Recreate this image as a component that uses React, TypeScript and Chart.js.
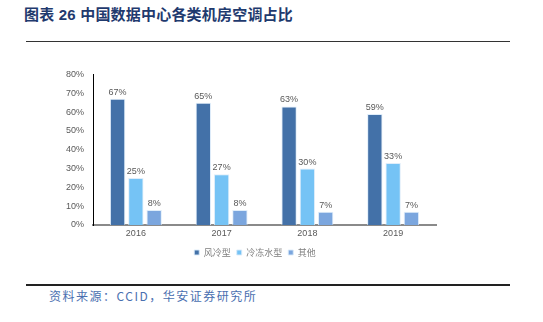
import React, { useEffect, useRef } from "react";
import { Chart, registerables } from "chart.js";

Chart.register(...registerables);

const categories = ["2016", "2017", "2018", "2019"];
const seriesNames = ["风冷型", "冷冻水型", "其他"];
const airCooled = [67, 65, 63, 59];
const chilledWater = [25, 27, 30, 33];
const others = [8, 8, 7, 7];
const yTicks = [0, 10, 20, 30, 40, 50, 60, 70, 80];

const colors = ["#4371A8", "#75C3F5", "#7BA6DE"];

const valueLabels = {
  id: "valueLabels",
  afterDatasetsDraw(chart: any) {
    const ctx = chart.ctx;
    ctx.save();
    ctx.font = "9px 'Liberation Sans', Arial, sans-serif";
    ctx.fillStyle = "#595959";
    ctx.textAlign = "center";
    ctx.textBaseline = "bottom";
    chart.data.datasets.forEach((ds: any, i: number) => {
      const meta = chart.getDatasetMeta(i);
      meta.data.forEach((bar: any, j: number) => {
        ctx.fillText(ds.data[j] + "%", bar.x, bar.y - 2);
      });
    });
    ctx.restore();
  },
};

export default function App() {
  const ref = useRef<HTMLCanvasElement>(null);
  useEffect(() => {
    const chart = new Chart(ref.current!, {
      type: "bar",
      data: {
        labels: categories,
        datasets: [airCooled, chilledWater, others].map((d, i) => ({
          label: seriesNames[i],
          data: d,
          backgroundColor: colors[i],
          borderColor: "rgba(220,235,250,0.9)",
          borderWidth: 1,
          categoryPercentage: 0.64,
          barPercentage: 0.84,
        })),
      },
      options: {
        responsive: false,
        animation: false,
        devicePixelRatio: 1,
        layout: { padding: { left: 0, right: 33, top: 12, bottom: 0 } },
        plugins: {
          tooltip: { enabled: false },
          legend: {
            position: "bottom",
            labels: {
              boxWidth: 5,
              boxHeight: 5,
              padding: 6,
              color: "#7f7f7f",
              font: { size: 9, family: "'Noto Sans CJK SC', sans-serif" },
            },
          },
        },
        scales: {
          x: {
            grid: { display: false, drawTicks: false },
            border: { color: "#8a8a8a", width: 2 },
            ticks: {
              color: "#595959",
              padding: 3,
              font: { size: 9, family: "'Liberation Sans', Arial, sans-serif" },
            },
            afterFit: (s: any) => {
              s.height = 17;
            },
          },
          y: {
            min: 0,
            max: 80,
            grid: { display: false, drawTicks: false },
            border: { color: "#000000", width: 1 },
            afterBuildTicks: (s: any) => {
              s.ticks = yTicks.map((v) => ({ value: v }));
            },
            ticks: {
              color: "#595959",
              padding: 9,
              font: { size: 9, family: "'Liberation Sans', Arial, sans-serif" },
              callback: (v: any) => v + "%",
            },
            afterFit: (s: any) => {
              s.width = 93;
            },
          },
          yRight: {
            position: "right",
            min: 0,
            max: 80,
            grid: { display: false, drawTicks: false },
            border: { display: false },
            ticks: { display: false },
            afterFit: (s: any) => {
              s.width = 74;
            },
          },
        },
      },
      plugins: [valueLabels],
    });
    return () => chart.destroy();
  }, []);

  return (
    <div
      style={{
        position: "fixed",
        left: 0,
        top: 0,
        width: 543,
        height: 322,
        background: "#fff",
        overflow: "hidden",
      }}
    >
      <div
        style={{
          position: "absolute",
          left: 24,
          top: 3,
          fontFamily: "'Liberation Sans', 'Noto Sans CJK SC', sans-serif",
          fontWeight: 700,
          fontSize: 15,
          letterSpacing: 0.2,
          color: "#1F3A6E",
          whiteSpace: "nowrap",
        }}
      >
        图表 26 中国数据中心各类机房空调占比
      </div>
      <div style={{ position: "absolute", left: 26, top: 41, width: 484, height: 1, background: "#333" }} />
      <canvas
        ref={ref}
        width={543}
        height={207}
        style={{ position: "absolute", left: 0, top: 60, width: 543, height: 207 }}
      />
      <div style={{ position: "absolute", left: 26, top: 284, width: 484, height: 1.5, background: "#222" }} />
      <div
        style={{
          position: "absolute",
          left: 49,
          top: 287,
          fontFamily: "'Noto Sans CJK SC', sans-serif",
          fontSize: 12,
          letterSpacing: 1.5,
          color: "#4A6FB0",
          whiteSpace: "nowrap",
        }}
      >
        资料来源：CCID，华安证券研究所
      </div>
    </div>
  );
}
